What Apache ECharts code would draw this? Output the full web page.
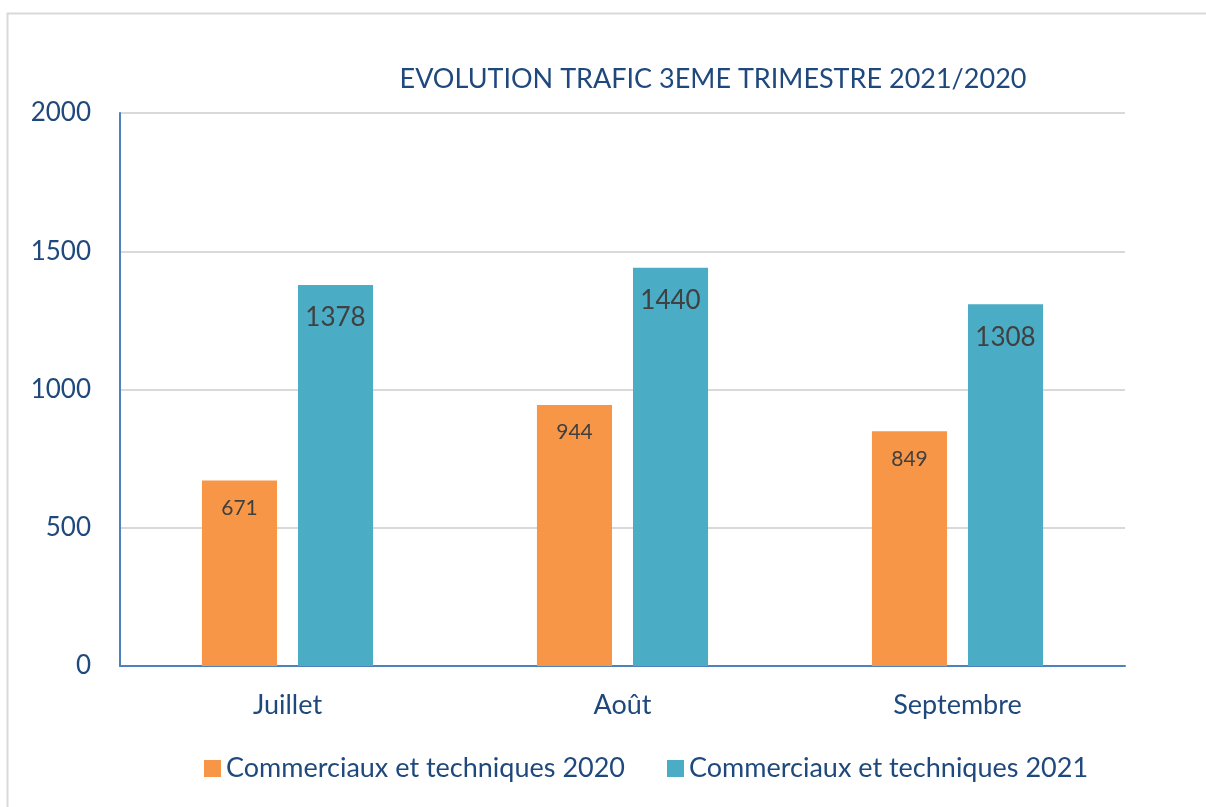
<!DOCTYPE html>
<html>
<head>
<meta charset="utf-8">
<script src="https://cdn.jsdelivr.net/npm/echarts@6/dist/echarts.min.js"></script>
<style>
  html, body { margin: 0; padding: 0; background: #fff; }
  #chart { width: 1206px; height: 807px; }
</style>
</head>
<body>
<div id="chart"></div>
<script>
// données
const mois = ['Juillet', 'Août', 'Septembre'];
const trafic2020 = [671, 944, 849];
const trafic2021 = [1378, 1440, 1308];
const nomsSeries = ['Commerciaux et techniques 2020', 'Commerciaux et techniques 2021'];

const bleuTexte = '#1F497D';
const police = 'Lato';

let myChart = echarts.init(document.getElementById('chart'));

let option = {
    backgroundColor: '#fff',
    animation: false,
    textStyle: { fontFamily: police },
    graphic: [{
        type: 'rect',
        shape: { x: 7.5, y: 13.5, width: 1300, height: 900 },
        style: { fill: 'none', stroke: '#D9D9D9', lineWidth: 2 },
        silent: true
    }],
    title: {
        text: 'EVOLUTION TRAFIC 3EME TRIMESTRE 2021/2020',
        left: 708,
        textAlign: 'center',
        top: 61,
        textStyle: { color: bleuTexte, fontSize: 27, fontWeight: 'normal', fontFamily: police }
    },
    legend: {
        data: nomsSeries,
        bottom: 20,
        left: 199,
        itemWidth: 17,
        itemHeight: 17,
        itemGap: 42,
        icon: 'rect',
        textStyle: { color: bleuTexte, fontSize: 27, fontFamily: police }
    },
    grid: { left: 120, right: 81, top: 113, bottom: 141, containLabel: false },
    xAxis: {
        type: 'category',
        data: mois,
        axisLine: { lineStyle: { color: '#4F81BD', width: 2 } },
        axisTick: { show: false },
        axisLabel: { color: bleuTexte, fontSize: 27, margin: 26, fontFamily: police }
    },
    yAxis: {
        type: 'value',
        min: 0,
        max: 2000,
        interval: 500,
        axisLine: { show: true, lineStyle: { color: '#4F81BD', width: 2 } },
        axisTick: { show: false },
        splitLine: { lineStyle: { color: '#D9D9D9', width: 2 } },
        axisLabel: {
            color: bleuTexte, fontSize: 26, margin: 29, fontFamily: police,
            formatter: (v) => String(v)
        }
    },
    series: [{
        name: nomsSeries[0],
        type: 'bar',
        data: trafic2020,
        barWidth: '22.4%',
        barGap: '28%',
        itemStyle: { color: '#F79646' },
        label: {
            show: true, position: 'insideTop', distance: 17,
            color: '#404040', fontSize: 21, fontFamily: police
        }
    }, {
        name: nomsSeries[1],
        type: 'bar',
        data: trafic2021,
        barWidth: '22.4%',
        itemStyle: { color: '#4BACC6' },
        label: {
            show: true, position: 'insideTop', distance: 20,
            color: '#404040', fontSize: 26, fontFamily: police
        }
    }]
};

myChart.setOption(option);
</script>
</body>
</html>
